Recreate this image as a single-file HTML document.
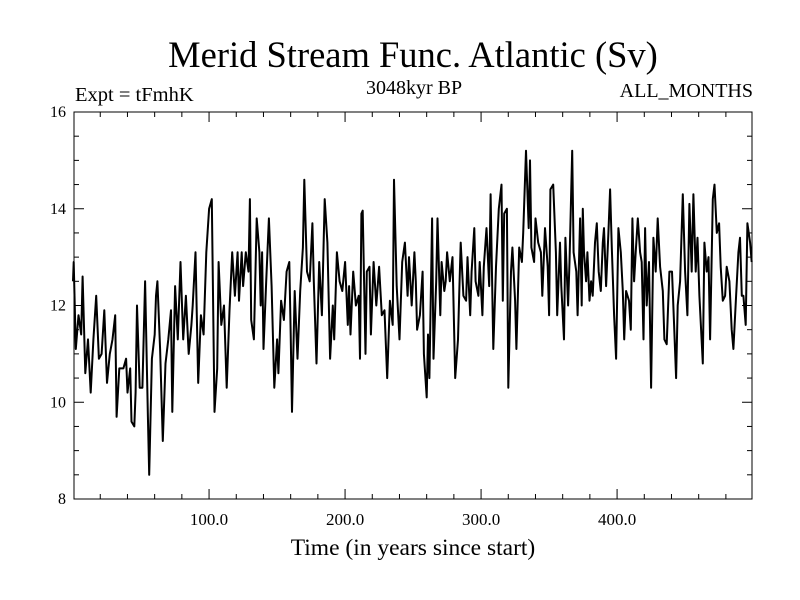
<!DOCTYPE html>
<html><head><meta charset="utf-8"><style>
body{margin:0;background:#fff}
svg{display:block}
text{font-family:"Liberation Serif",serif;fill:#000}
</style></head><body>
<svg id="chart" width="800" height="600" xmlns="http://www.w3.org/2000/svg">
<text x="413" y="67" font-size="36.5" text-anchor="middle">Merid Stream Func. Atlantic (Sv)</text>
<text x="75" y="101" font-size="20.5">Expt = tFmhK</text>
<text x="414" y="94" font-size="20" text-anchor="middle">3048kyr BP</text>
<text x="753" y="97" font-size="20" text-anchor="end">ALL_MONTHS</text>
<text x="413" y="555" font-size="23.5" text-anchor="middle">Time (in years since start)</text>
<g id="axes"></g>
<g id="series"></g>
<rect x="74" y="112" width="678" height="387" fill="none" stroke="#000" stroke-width="1"/>
</svg>
<script>
const years=[0,0.5,2,4,6,7,9,11,13,15,17,19,21,23,25,27,29,31,32,34,37,39,40,42,43,45,46,47,49,51,53,55,56,58,60,61,62,64,66,68,70,72,73,75,77,79,81,83,85,87,88,90,92,94,96,98,100,102,104,106,107,109,111,113,115,117,119,121,122,
124,125,127,129,130,131,133,135,137,138,139,140,142,144,146,148,150,151,153,155,157,159,160,161,163,165,167,169,170,172,174,176,177,179,181,183,185,187,189,191,192,194,196,198,200,202,203,204,206,208,210,211,212,213,215,216,218,219,221,223,225,227,229,231,233,235,236,238,240,242,244,246,247,249,251,252,
253,255,257,258,260,261,262,264,265,267,268,270,271,273,274,275,277,279,280,281,283,284,285,287,289,290,292,293,295,296,298,299,301,302,304,306,307,309,311,313,315,316,317,319,320,322,323,325,326,328,330,331,333,335,336,337,339,340,342,344,345,347,349,350,351,353,355,356,358,359,361,362,364,365,367,368,370,371,
372.8,374,374.8,375.7,377.2,378.2,379.7,380.9,382.1,383.8,385.1,386.5,388,389.5,390.4,391.9,393.6,394.9,396.1,397.8,399.3,401,402.7,404.2,405.2,406.6,408.8,410.1,411.3,412.5,413.7,415.2,416.9,418.1,419.4,420.6,421.8,423.5,425,426.7,428.4,429.9,431.6,433.6,434.8,436.5,438.5,440.4,441.9,443.4,444.6,446.3,448.3,450,451.7,453.2,454.9,456.1,457.8,459.1,460.5,463,464.2,465.9,467.2,468.4,470.4,471.6,473.3,475,476.2,477.7,479.4,480.6,482.6,484.3,485.5,487.5,489.2,490.4,491.7,492.9,494.6,495.8,497.8,499];
const values=[12.5,12.9,11.1,11.8,11.4,12.6,10.6,11.3,10.2,11.3,12.2,10.9,11.0,11.9,10.4,11.0,11.3,11.8,9.7,10.7,10.7,10.9,10.2,10.7,9.6,9.5,10.2,12.0,10.3,10.3,12.5,9.7,8.5,10.9,11.4,12.2,12.5,11.1,9.2,10.8,11.3,11.9,9.8,12.4,11.3,12.9,11.3,12.2,11.0,11.6,12.0,13.1,10.4,11.8,11.4,13.1,14.0,14.2,9.8,10.7,12.9,11.6,12.0,10.3,11.9,13.1,12.2,13.1,12.1,
13.1,12.4,13.1,12.7,14.2,11.7,11.3,13.8,13.1,12.0,13.1,11.1,12.5,13.8,12.4,10.3,11.3,10.6,12.1,11.7,12.7,12.9,11.4,9.8,12.3,10.9,12.3,13.2,14.6,12.7,12.5,13.7,12.5,10.8,12.9,11.8,14.2,13.3,10.9,12.0,11.3,13.1,12.5,12.3,12.9,11.6,12.4,11.4,12.7,12.0,12.2,10.9,13.9,13.96,11.0,12.7,12.8,11.4,12.9,12.0,12.8,11.8,11.9,10.5,12.1,11.6,14.6,12.4,11.3,12.9,13.3,12.2,13.0,12.0,13.1,12.5,
11.5,11.8,12.7,11.0,10.1,11.4,10.5,13.8,10.9,12.5,13.8,11.8,12.9,12.3,12.5,13.1,12.5,13.0,11.7,10.5,11.3,12.3,13.3,12.2,12.1,13.0,11.8,12.7,13.6,12.5,12.2,12.9,11.8,12.8,13.6,12.4,14.3,11.1,12.8,14.0,14.5,12.1,13.9,14.0,10.3,12.7,13.2,12.1,11.1,13.2,12.9,13.5,15.2,13.6,15.0,13.2,12.9,13.8,13.3,13.1,12.2,13.6,12.8,11.8,14.4,14.5,13.1,11.8,13.3,12.4,11.3,13.4,12.0,12.9,15.2,13.1,12.7,11.8,
13.8,12.0,14.0,13.1,12.5,13.1,12.1,12.5,12.2,13.3,13.7,12.7,12.3,13.3,13.6,12.4,13.5,14.4,13.2,11.8,10.9,13.6,13.1,12.3,11.3,12.3,12.1,11.5,13.8,12.5,13.1,13.8,13.1,12.9,11.3,13.6,12.0,12.9,10.3,13.4,12.7,13.8,12.8,12.3,11.3,11.2,12.7,12.7,11.6,10.5,12.0,12.5,14.3,12.7,11.8,14.1,12.7,14.3,12.7,13.4,12.2,10.8,13.3,12.7,13.0,11.3,14.2,14.5,13.5,13.7,12.8,12.1,12.2,12.8,12.5,11.5,11.1,12.2,13.1,13.4,12.2,12.2,11.6,13.7,13.3,12.9];
const yTicks=[8,10,12,14,16];
const xTicks=[100,200,300,400];
const xTickLabels=["100.0","200.0","300.0","400.0"];
const X0=74,X1=752,Y0=499,Y1=112,XMIN=0.7,XMAX=499.2,YMIN=8,YMAX=16;
const sx=v=>X0+(v-XMIN)/(XMAX-XMIN)*(X1-X0);
const sy=v=>Y0-(v-YMIN)/(YMAX-YMIN)*(Y0-Y1);
const NS="http://www.w3.org/2000/svg";
const axes=document.getElementById('axes');
function mk(tag,attrs,parent){const e=document.createElementNS(NS,tag);for(const k in attrs)e.setAttribute(k,attrs[k]);parent.appendChild(e);return e;}
for(let v=YMIN;v<=YMAX+1e-9;v+=0.5){
  const major=Math.abs(v%2)<1e-9,len=major?10:5,y=sy(v);
  const t1=mk('line',{x1:X0,x2:X0+len,y1:y,y2:y,stroke:'#000'},axes);
  
  
  const t2=mk('line',{x1:X1,x2:X1-len,y1:y,y2:y,stroke:'#000'},axes);
  
  
}
yTicks.forEach(v=>{
  const t=mk('text',{x:66,y:sy(v)+5,'font-size':16,'text-anchor':'end'},axes);
  t.textContent=v;
  
  
});
for(let v=20;v<XMAX;v+=20){
  const major=v%100===0,len=major?10:5,x=sx(v);
  const t1=mk('line',{x1:x,x2:x,y1:Y0,y2:Y0-len,stroke:'#000'},axes);
  
  
  const t2=mk('line',{x1:x,x2:x,y1:Y1,y2:Y1+len,stroke:'#000'},axes);
  
  
}
xTicks.forEach((v,i)=>{
  const t=mk('text',{x:sx(v),y:525,'font-size':17,'text-anchor':'middle'},axes);
  t.textContent=xTickLabels[i];
  
  
});
const pts=years.map((yr,i)=>sx(yr).toFixed(1)+','+sy(values[i]).toFixed(1)).join(' ');
const line=mk('polyline',{points:pts,fill:'none',stroke:'#000','stroke-width':2,'stroke-linejoin':'round'},document.getElementById('series'));


</script>
</body></html>
